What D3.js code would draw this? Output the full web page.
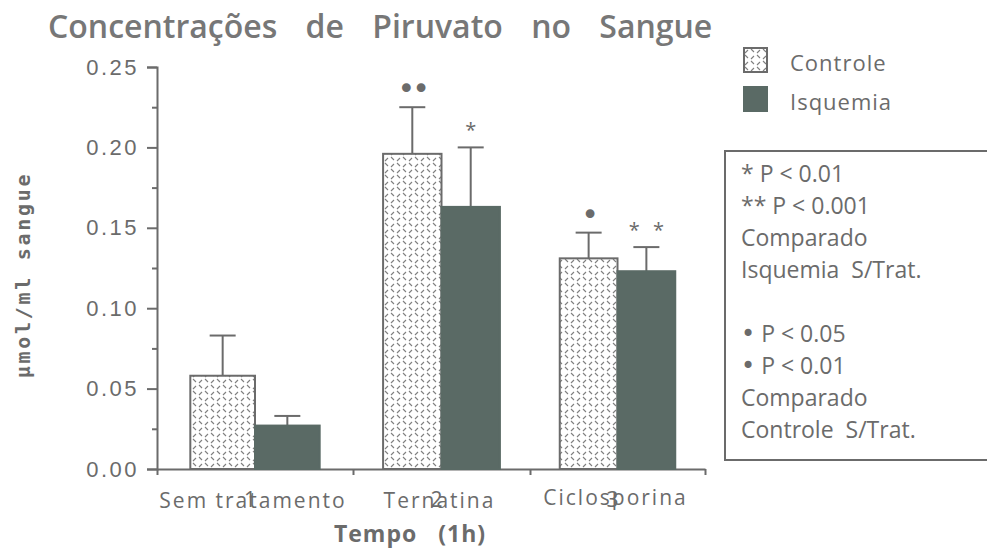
<!DOCTYPE html>
<html lang="pt">
<head>
<meta charset="UTF-8" />
<title>Concentrações de Piruvato no Sangue</title>
<script src="https://d3js.org/d3.v7.min.js"></script>
<style>
  body { margin: 0; background: #fff; }
  svg { display: block; font-family: "Open Sans", "Lato", sans-serif; }
</style>
</head>
<body>
<div id="chart"></div>
<script>
// dados
const categorias = ["Sem tratamento", "Ternatina", "Ciclosporina"];
const numeros = ["1", "2", "3"];
const series = ["Controle", "Isquemia"];
const controle = [0.058, 0.196, 0.131];
const controleErro = [0.025, 0.029, 0.016];
const isquemia = [0.027, 0.163, 0.123];
const isquemiaErro = [0.006, 0.037, 0.015];
const sigControle = ["", "••", "•"];
const sigIsquemia = ["", "*", "* *"];
const yTicks = [0, 0.05, 0.10, 0.15, 0.20, 0.25];
const notas = ["* P < 0.01", "** P < 0.001", "Comparado", "Isquemia  S/Trat.", "",
  "• P < 0.05", "• P < 0.01", "Comparado", "Controle  S/Trat."];

const width = 987, height = 551;
const cinza = "#6b6b6b", escuro = "#5a6a65";

const svg = d3.select("#chart").append("svg")
  .attr("width", width).attr("height", height);

// padrão tracejado das barras de controle
const defs = svg.append("defs");
const pat = defs.append("pattern")
  .attr("id", "hatch").attr("patternUnits", "userSpaceOnUse")
  .attr("width", 12).attr("height", 12);
pat.append("rect").attr("width", 12).attr("height", 12).attr("fill", "#fff");
pat.append("path").attr("d", "M1,5 L4,2 M7,11 L10,8 M7,1 L10,4 M1,7 L4,10")
  .attr("stroke", "#808080").attr("stroke-width", 1.1);

// escala x por grupo (faixas do original não são iguais)
const x = d3.scaleLinear().domain([0.5, 1.5, 2.5, 3.5]).range([157, 353, 530, 705]);
const bandW = i => x(i + 1.5) - x(i + 0.5);
const y = d3.scaleLinear().domain([0, 0.25]).range([469, 67]);

const dados = categorias.map((c, i) => [
  { i, s: "Controle", v: controle[i], e: controleErro[i], sig: sigControle[i] },
  { i, s: "Isquemia", v: isquemia[i], e: isquemiaErro[i], sig: sigIsquemia[i] }
]).flat();
const barX = d => x(d.i + 1) - (d.s === "Controle" ? bandW(d.i) * 0.33 : 0);
const barW = d => bandW(d.i) * 0.33;
const barC = d => barX(d) + barW(d) / 2;

// eixo y
svg.append("g").attr("transform", "translate(157,0)")
  .call(d3.axisLeft(y).tickValues(yTicks).tickFormat(d3.format(".2f")).tickSize(10).tickPadding(8));
svg.append("g").attr("transform", "translate(157,0)")
  .call(d3.axisLeft(y).tickValues(d3.range(0.025, 0.25, 0.05)).tickFormat("").tickSize(5))
  .select(".domain").remove();

// eixo x
svg.append("g").attr("transform", "translate(0,469)")
  .call(d3.axisBottom(x).tickValues([0.5, 1.5, 2.5, 3.5]).tickFormat("").tickSize(6).tickSizeOuter(0));

svg.selectAll(".tick text").attr("fill", cinza)
  .style("font-size", "22px").style("letter-spacing", "2.5px");
svg.selectAll(".domain, .tick line").attr("stroke", cinza).attr("stroke-width", 2);

// barras de erro
const g = svg.append("g");
g.selectAll("line.err").data(dados).join("line").attr("class", "err")
  .attr("x1", barC).attr("x2", barC)
  .attr("y1", d => y(d.v)).attr("y2", d => y(d.v + d.e))
  .attr("stroke", cinza).attr("stroke-width", 2);
g.selectAll("line.cap").data(dados).join("line").attr("class", "cap")
  .attr("x1", d => barC(d) - 13).attr("x2", d => barC(d) + 13)
  .attr("y1", d => y(d.v + d.e)).attr("y2", d => y(d.v + d.e))
  .attr("stroke", cinza).attr("stroke-width", 2);

// barras
g.selectAll("rect").data(dados).join("rect")
  .attr("x", barX)
  .attr("y", d => y(d.v))
  .attr("width", barW)
  .attr("height", d => y(0) - y(d.v))
  .attr("fill", d => d.s === "Controle" ? "url(#hatch)" : escuro)
  .attr("stroke", d => d.s === "Controle" ? cinza : escuro)
  .attr("stroke-width", 2);

// marcas de significância
g.selectAll("text.sig").data(dados.filter(d => d.sig)).join("text").attr("class", "sig")
  .attr("x", barC)
  .attr("y", d => y(d.v + d.e) - (d.sig.includes("*") ? 10 : 8))
  .attr("text-anchor", "middle")
  .attr("fill", cinza)
  .style("font-family", d => d.sig.includes("*") ? null : "'DejaVu Sans', sans-serif")
  .style("font-size", d => d.sig.includes("*") ? "20px" : "30px")
  .style("word-spacing", d => d.sig.includes("*") ? "8px" : null)
  .style("letter-spacing", d => d.sig.includes("*") ? null : "-3px")
  .text(d => d.sig);

// rótulos das categorias e números sobrepostos
svg.selectAll("text.cat").data(categorias).join("text").attr("class", "cat")
  .attr("x", (d, i) => x(i + 1) - 2)
  .attr("y", (d, i) => i === 2 ? 505 : 508)
  .attr("text-anchor", "middle").attr("fill", cinza)
  .style("font-size", "21px").style("letter-spacing", "2px").text(d => d);
svg.selectAll("text.num").data(numeros).join("text").attr("class", "num")
  .attr("x", (d, i) => x(i + 1) - 5)
  .attr("y", 507)
  .attr("text-anchor", "middle").attr("fill", cinza)
  .style("font-size", "21px").text(d => d);

// títulos
svg.append("text").attr("x", 48).attr("y", 38)
  .attr("fill", "#777").style("font-size", "32px").style("font-weight", "600")
  .style("word-spacing", "20px")
  .text("Concentrações de Piruvato no Sangue");
svg.append("text").attr("x", 410).attr("y", 542).attr("text-anchor", "middle")
  .attr("fill", cinza).style("font-size", "23px").style("font-weight", "bold")
  .style("letter-spacing", "1px").style("word-spacing", "14px")
  .text("Tempo (1h)");
svg.append("text").attr("transform", "translate(30,275) rotate(-90)")
  .attr("text-anchor", "middle").attr("fill", cinza)
  .style("font-family", "'DejaVu Sans Mono', monospace")
  .style("font-size", "20px").style("font-weight", "bold")
  .style("letter-spacing", "2.7px")
  .text("µmol/ml sangue");

// legenda
const leg = svg.append("g").selectAll("g").data(series).join("g")
  .attr("transform", (d, i) => `translate(744,${48 + i * 39})`);
leg.append("rect").attr("width", 23).attr("height", 24)
  .attr("fill", d => d === "Controle" ? "url(#hatch)" : escuro)
  .attr("stroke", d => d === "Controle" ? cinza : escuro).attr("stroke-width", 2);
leg.append("text").attr("x", 46).attr("y", 23).attr("fill", cinza)
  .style("font-size", "22px").style("letter-spacing", "1px").text(d => d);

// caixa de notas
svg.append("rect").attr("x", 725).attr("y", 151).attr("width", 275).attr("height", 309)
  .attr("fill", "none").attr("stroke", cinza).attr("stroke-width", 2);
const linhas = svg.append("g").selectAll("text").data(notas).join("text")
  .attr("x", 741).attr("y", (d, i) => 182 + i * 32)
  .attr("fill", cinza).style("font-size", "23px")
  .attr("xml:space", "preserve");
linhas.filter(d => d.startsWith("•")).append("tspan")
  .style("font-family", "'DejaVu Sans', sans-serif").style("font-size", "24px")
  .text("•");
linhas.append("tspan").text(d => d.startsWith("•") ? d.slice(1) : d);
</script>
</body>
</html>
